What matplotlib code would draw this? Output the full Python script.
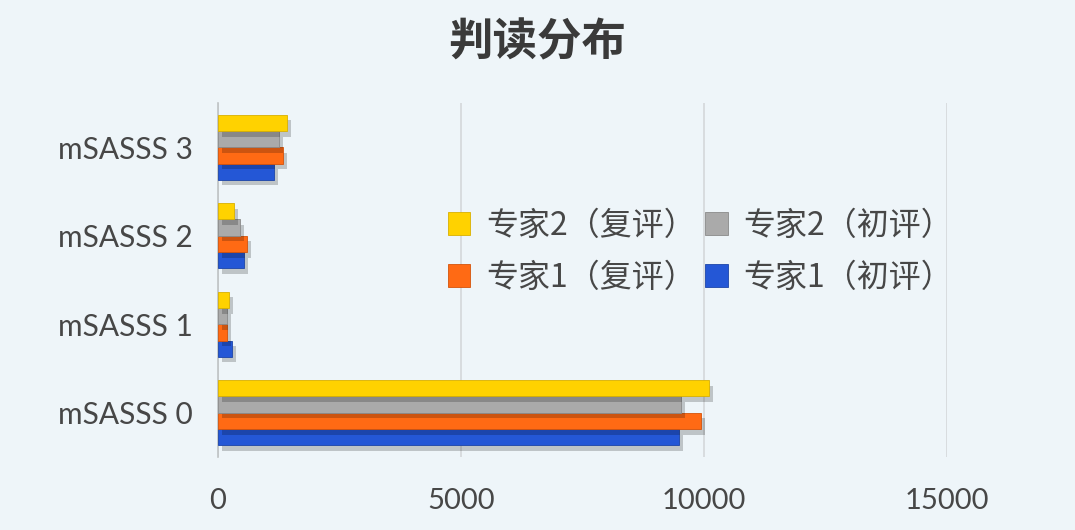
import matplotlib
matplotlib.use("Agg")
import matplotlib.pyplot as plt
import matplotlib.patheffects as pe
import numpy as np

categories = ["mSASSS 0", "mSASSS 1", "mSASSS 2", "mSASSS 3"]
series_names = ["专家1（初评）", "专家1（复评）", "专家2（初评）", "专家2（复评）"]
e1_initial = [9480, 280, 540, 1150]
e1_review = [9930, 190, 600, 1340]
e2_initial = [9530, 180, 455, 1260]
e2_review = [10100, 230, 330, 1410]
xticks = [0, 5000, 10000, 15000]
title = "判读分布"

colors = ["#2457D6", "#FF6A14", "#AAAAAA", "#FFD200"]
edges = ["#1C45A8", "#D4530A", "#8A8A8A", "#D9B000"]
bg = "#EEF5F9"

plt.rcParams['font.family'] = ['Lato', 'Noto Sans CJK SC', 'DejaVu Sans']

fig = plt.figure(figsize=(10.75, 5.3), dpi=100, facecolor=bg)
ax = fig.add_axes([218/1075, 1-457/530, (947-218)/1075, (457-103)/530])
ax.set_facecolor(bg)

y = np.arange(len(categories))
h = 0.184
data = [e1_initial, e1_review, e2_initial, e2_review]
handles = []
for i, (vals, name) in enumerate(zip(data, series_names)):
    bars = ax.barh(y + (i - 1.5) * h, vals, height=h, color=colors[i],
                   edgecolor=edges[i], linewidth=0.6, label=name, zorder=3)
    for b in bars:
        b.set_path_effects([pe.SimplePatchShadow(offset=(3, -4), shadow_rgbFace="#000000", alpha=0.2), pe.Normal()])
    handles.append(bars)

ax.set_xlim(0, 15000)
ax.set_ylim(-0.5, 3.5)
ax.set_xticks(xticks)
ax.set_xticklabels([str(t) for t in xticks], fontsize=21, color="#474747", family=['Lato', 'DejaVu Sans'])
ax.set_yticks(y)
ax.set_yticklabels(categories, fontsize=21.5, color="#474747", family=['Lato', 'DejaVu Sans'])
ax.tick_params(axis='x', length=0, pad=22)
ax.tick_params(axis='y', length=0, pad=18)
ax.grid(axis='x', color="#D4D8DA", linewidth=1.2, zorder=0)
for s in ["top", "right", "bottom"]:
    ax.spines[s].set_visible(False)
ax.spines["left"].set_color("#BFC3C5")
ax.spines["left"].set_linewidth(1.2)

# legend order: row1 = 专家2复评, 专家2初评 ; row2 = 专家1复评, 专家1初评
order = [3, 1, 2, 0]
leg = ax.legend([handles[k] for k in order], [series_names[k] for k in order],
                ncol=2, loc='center', bbox_to_anchor=(0.662, 0.58), frameon=False,
                prop={'family': ['Noto Sans CJK SC', 'DejaVu Sans'], 'size': 23},
                handlelength=0.7, handleheight=0.7, handletextpad=0.5,
                columnspacing=0.3, labelspacing=0.62)
for t in leg.get_texts():
    t.set_color("#474747")
for hnd in leg.legend_handles:
    hnd.set_path_effects([])

fig.text(0.5, 1-42/530, title, ha='center', va='center', fontsize=32,
         fontweight='black', color="#3A3A3A", family=['Noto Sans CJK SC', 'DejaVu Sans'])

fig.savefig("out.png", dpi=100, facecolor=bg)
